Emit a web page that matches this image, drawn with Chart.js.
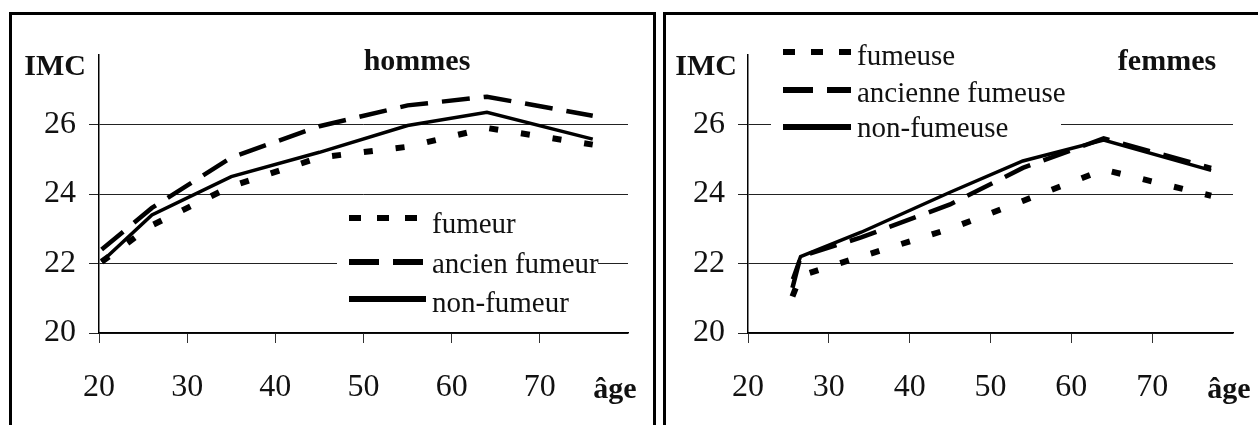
<!DOCTYPE html>
<html>
<head>
<meta charset="utf-8">
<script src="https://cdn.jsdelivr.net/npm/chart.js@4.4.1/dist/chart.umd.min.js"></script>
<style>
body{margin:0;background:#fff;width:1258px;height:425px;overflow:hidden;position:relative;}
.cadre{position:absolute;border:3px solid #000;box-sizing:border-box;}
#cadre1{left:9px;top:12px;width:647px;height:440px;}
#cadre2{left:663px;top:12px;width:640px;height:440px;}
canvas{position:absolute;}
#grafHommes{left:12px;top:15px;width:641px;height:410px;}
#grafFemmes{left:667px;top:15px;width:591px;height:410px;}
</style>
</head>
<body>
<div class="cadre" id="cadre1"></div>
<div class="cadre" id="cadre2"></div>
<canvas id="grafHommes" width="641" height="410"></canvas>
<canvas id="grafFemmes" width="591" height="410"></canvas>
<script>
// IMC selon l'age, hommes
var agesHommes = [20.3, 26, 35, 45, 55, 64, 76];
var fumeur = [22.05, 23.1, 24.22, 25.05, 25.36, 25.9, 25.42];
var ancienFumeur = [22.4, 23.6, 25.05, 25.95, 26.55, 26.8, 26.25];
var nonFumeur = [22.05, 23.4, 24.5, 25.2, 25.97, 26.35, 25.58];

// IMC selon l'age, femmes
var agesFemmes = [25.5, 26.5, 34, 45, 54, 64, 77.3];
var fumeuse = [21.05, 21.65, 22.2, 23.0, 23.8, 24.7, 23.95];
var ancienneFumeuse = [21.3, 22.2, 22.75, 23.7, 24.75, 25.6, 24.75];
var nonFumeuse = [21.55, 22.2, 22.9, 24.05, 24.95, 25.55, 24.68];

var ticksX = [20, 30, 40, 50, 60, 70];
var ticksY = [20, 22, 24, 26];

var police = 'Liberation Serif';

function points(ages, valeurs){
    var pts = [];
    for(var i = 0; i < ages.length; i++){
        pts.push({x: ages[i], y: valeurs[i]});
    }
    return pts;
}

// textes du panneau : IMC, titre, age et legende sur fond blanc
var textesPanneau = {
    id: 'textesPanneau',
    beforeDatasetsDraw: function(chart, args, o){
        var ctx = chart.ctx;
        ctx.save();
        ctx.fillStyle = '#fff';
        ctx.fillRect(o.cadre[0], o.cadre[1], o.cadre[2], o.cadre[3]);
        var ds = chart.data.datasets;
        for(var i = 0; i < ds.length; i++){
            ctx.beginPath();
            ctx.setLineDash(o.tirets[i]);
            ctx.lineWidth = 6;
            ctx.strokeStyle = '#000';
            ctx.moveTo(o.echX[0], o.lignesY[i]);
            ctx.lineTo(o.echX[1], o.lignesY[i]);
            ctx.stroke();
            ctx.setLineDash([]);
            ctx.fillStyle = '#111';
            ctx.font = '29px "' + police + '"';
            ctx.textAlign = 'left';
            ctx.textBaseline = 'alphabetic';
            ctx.fillText(ds[i].label, o.texteX, o.basesY[i]);
        }
        ctx.fillStyle = '#111';
        ctx.font = 'bold 30px "' + police + '"';
        ctx.textAlign = 'right';
        ctx.fillText('IMC', o.imc[0], o.imc[1]);
        ctx.textAlign = 'center';
        ctx.fillText(o.titre, o.titrePos[0], o.titrePos[1]);
        ctx.fillText('âge', o.age[0], o.age[1]);
        ctx.restore();
    }
};

function echelles(largeurY){
    return {
        x: {
            type: 'linear',
            min: 20,
            max: 80,
            afterFit: function(s){ s.height = 92; },
            afterBuildTicks: function(s){
                s.ticks = ticksX.concat([80]).map(function(v){ return {value: v}; });
            },
            border: {display: true, color: '#000', width: 1.5},
            grid: {
                drawOnChartArea: false,
                tickLength: 10,
                color: function(c){ return c.tick && c.tick.value == 80 ? 'rgba(0,0,0,0)' : '#333'; }
            },
            ticks: {
                padding: 25,
                color: '#111',
                maxRotation: 0,
                autoSkip: false,
                font: {family: police, size: 32},
                callback: function(v){ return v == 80 ? '' : v; }
            }
        },
        y: {
            min: 20,
            max: 28,
            afterFit: function(s){ s.width = largeurY; },
            afterBuildTicks: function(s){
                s.ticks = ticksY.concat([28]).map(function(v){ return {value: v}; });
            },
            border: {display: true, color: '#000', width: 1.5},
            grid: {
                tickLength: 10,
                lineWidth: 1,
                color: function(c){ return c.tick && c.tick.value == 28 ? 'rgba(0,0,0,0)' : '#222'; }
            },
            ticks: {
                padding: 13,
                color: '#111',
                font: {family: police, size: 32},
                callback: function(v){ return v == 28 ? '' : v; }
            }
        }
    };
}

var tiretsFumeur = [9, 23];
var tiretsAncien = [28, 14];

new Chart(document.getElementById('grafHommes').getContext('2d'), {
    type: 'line',
    data: {
        datasets: [{
            label: 'fumeur',
            data: points(agesHommes, fumeur),
            borderColor: '#000',
            borderWidth: 6,
            borderDash: tiretsFumeur,
            pointRadius: 0
        }, {
            label: 'ancien fumeur',
            data: points(agesHommes, ancienFumeur),
            borderColor: '#000',
            borderWidth: 4.5,
            borderDash: tiretsAncien,
            pointRadius: 0
        }, {
            label: 'non-fumeur',
            data: points(agesHommes, nonFumeur),
            borderColor: '#000',
            borderWidth: 3.5,
            pointRadius: 0
        }]
    },
    options: {
        responsive: false,
        animation: false,
        devicePixelRatio: 1,
        layout: {padding: {left: 0, top: 40, right: 20, bottom: 0}},
        scales: echelles(87),
        plugins: {
            legend: {display: false},
            tooltip: {enabled: false},
            textesPanneau: {
                cadre: [325, 192, 261, 113],
                echX: [337, 414],
                lignesY: [203, 247, 284],
                tirets: [[12, 16], [30, 14], []],
                texteX: 420,
                basesY: [218, 258, 297],
                imc: [74, 60],
                titre: 'hommes',
                titrePos: [405, 55],
                age: [603, 383]
            }
        }
    },
    plugins: [textesPanneau]
});

new Chart(document.getElementById('grafFemmes').getContext('2d'), {
    type: 'line',
    data: {
        datasets: [{
            label: 'fumeuse',
            data: points(agesFemmes, fumeuse),
            borderColor: '#000',
            borderWidth: 6,
            borderDash: tiretsFumeur,
            pointRadius: 0
        }, {
            label: 'ancienne fumeuse',
            data: points(agesFemmes, ancienneFumeuse),
            borderColor: '#000',
            borderWidth: 4.5,
            borderDash: tiretsAncien,
            pointRadius: 0
        }, {
            label: 'non-fumeuse',
            data: points(agesFemmes, nonFumeuse),
            borderColor: '#000',
            borderWidth: 3.5,
            pointRadius: 0
        }]
    },
    options: {
        responsive: false,
        animation: false,
        devicePixelRatio: 1,
        layout: {padding: {left: 0, top: 40, right: 12, bottom: 0}},
        scales: echelles(81),
        plugins: {
            legend: {display: false},
            tooltip: {enabled: false},
            textesPanneau: {
                cadre: [104, 20, 290, 110],
                echX: [116, 184],
                lignesY: [37, 75, 112],
                tirets: [[12, 16], [30, 14], []],
                texteX: 190,
                basesY: [50, 87, 122],
                imc: [70, 60],
                titre: 'femmes',
                titrePos: [500, 55],
                age: [562, 383]
            }
        }
    },
    plugins: [textesPanneau]
});
</script>
</body>
</html>
